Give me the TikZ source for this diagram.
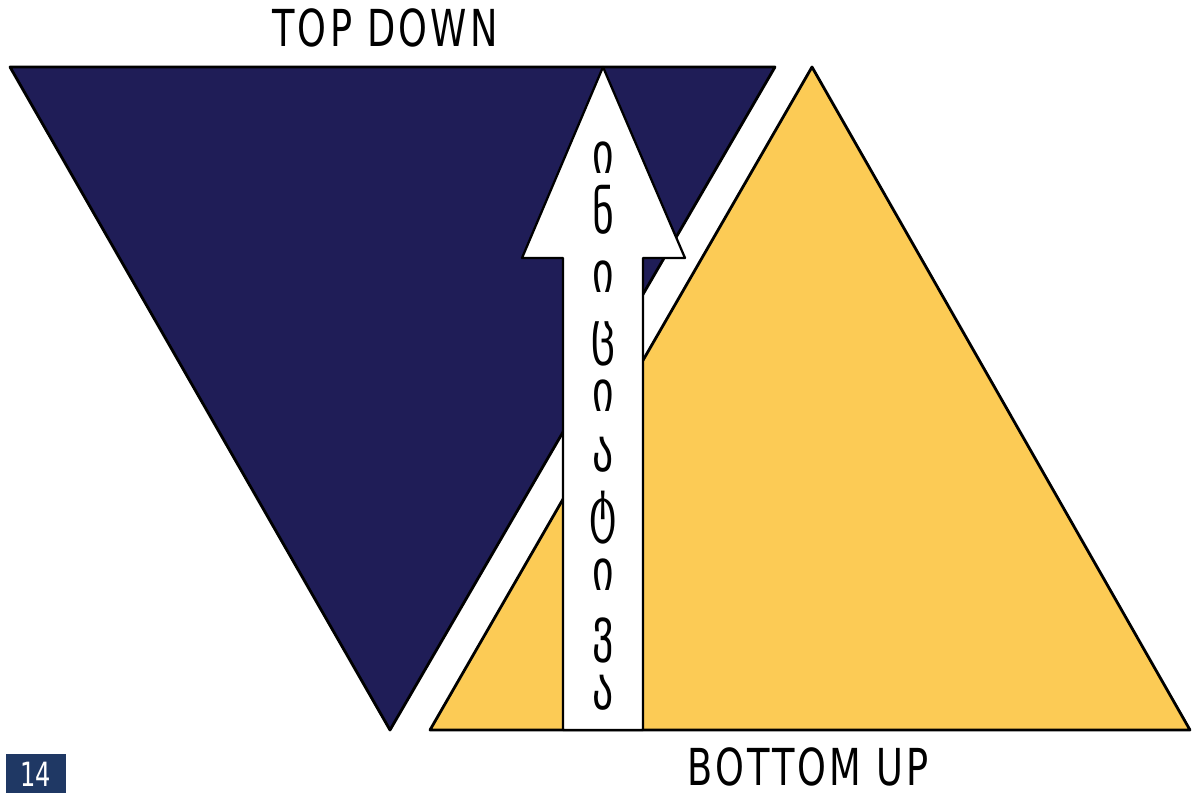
\documentclass[tikz,border=0pt]{standalone}
\usepackage{fontspec}
\setmainfont{DejaVu Sans Condensed}
\newfontfamily\geofont[Script=Georgian]{DejaVu Sans Condensed}
\usetikzlibrary{positioning,calc}
\definecolor{navytri}{HTML}{1F1D57}
\definecolor{yellowtri}{HTML}{FCCB55}
\definecolor{pagebox}{HTML}{1F3864}
\tikzset{
  tri/.style={draw=black, line width=1.6pt, line join=round},
  heading/.style={font=\fontsize{29}{30}\selectfont\addfontfeatures{LetterSpace=8},
    inner sep=0pt, anchor=base, text depth=0pt},
  geoletter/.style={font=\geofont\fontsize{33}{34}\selectfont, inner sep=0pt},
}

\begin{document}
\begin{tikzpicture}[x=0.02cm, y=-0.02cm]
\useasboundingbox (0,0) rectangle (1194,793);

% top down triangle
\coordinate (tdl) at (10,67);
\coordinate (tdr) at (775,67);
\coordinate (tdb) at (390,730);
\fill[navytri] (tdl) -- (tdr) -- (tdb) -- cycle;
\draw[tri] (tdl) -- (tdr) -- (tdb) -- cycle;

% bottom up triangle
\coordinate (bua) at (812,67);
\coordinate (bul) at (430,730);
\coordinate (bur) at (1190,730);
\fill[yellowtri] (bua) -- (bul) -- (bur) -- cycle;
\draw[tri] (bua) -- (bul) -- (bur) -- cycle;

% white arrow
\coordinate (tip) at (603,67);
\draw[tri, fill=white, line width=1.3pt] (563,730) -- (563,258) -- (522,258) -- (tip)
  -- (685,258) -- (643,258) -- (643,730) -- cycle;

\foreach \ch [count=\i from 0] in {ი,ნ,ი,ც,ი,ა,ტ,ი,ვ,ა}
  \node[geoletter, anchor=base] (g\i) at (603,{174+59.5*\i}) {\scalebox{0.8}[1]{\ch}};

\node[heading] (topdown) at (385,47) {\scalebox{0.8}[1]{TOP DOWN}};
\node[heading] (bottomup) at (808,786) {\scalebox{0.8}[1]{BOTTOM UP}};

\node[fill=pagebox, text=white, minimum width=60*0.02cm, minimum height=40*0.02cm,
  font=\fontsize{19}{20}\selectfont] (pnum) at (36,774) {\scalebox{0.8}[1]{14}};
\end{tikzpicture}
\end{document}
